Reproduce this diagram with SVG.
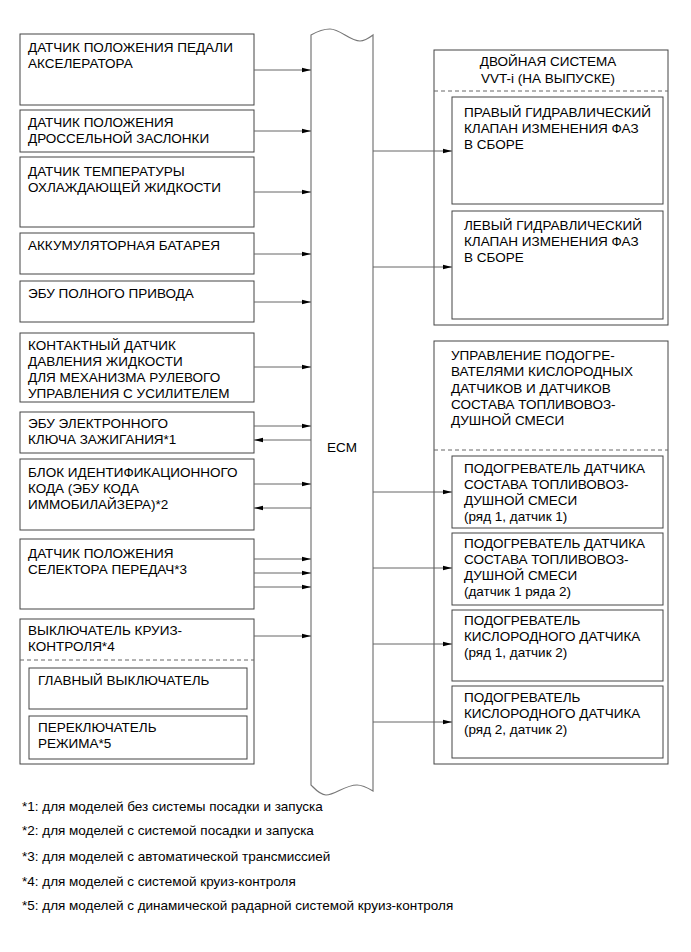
<svg xmlns="http://www.w3.org/2000/svg" width="691" height="952" viewBox="0 0 691 952">
<defs>
<style>
text{font-family:"Liberation Sans",Arial,sans-serif;font-size:13.5px;fill:#000}
.fn{font-size:13.5px}
.box{fill:#fff;stroke:#444;stroke-width:1}
.ecm{fill:#fff;stroke:#777;stroke-width:1.2}
.dash{stroke:#666;stroke-width:1;stroke-dasharray:4,3;fill:none}
.ar{stroke:#666;stroke-width:1;fill:none;marker-end:url(#ah)}
</style>
<marker id="ah" markerUnits="userSpaceOnUse" markerWidth="9" markerHeight="6" refX="9" refY="3" orient="auto">
<path d="M0,0.8 L9,3 L0,5.2 z" fill="#000"/>
</marker>
</defs>
<rect width="691" height="952" fill="#fff"/>

<g id="ecm">
<path class="ecm" d="M311,35 C318,31 324,29 330,29 C340,29 350,41 360,41 C365,41 369,38 373,35 L373,791 C368,788 363,785 357,785 C345,785 335,795 326,795 C320,795 315,789 311,785 Z"/>
<text x="342" y="452" text-anchor="middle">ECM</text>
</g>

<g id="in1"><rect class="box" x="20" y="34" width="234" height="71"/><text x="28" y="52">ДАТЧИК ПОЛОЖЕНИЯ ПЕДАЛИ</text><text x="28" y="68">АКСЕЛЕРАТОРА</text></g>
<g id="in2"><rect class="box" x="20" y="110" width="234" height="42"/><text x="28" y="127">ДАТЧИК ПОЛОЖЕНИЯ</text><text x="28" y="143">ДРОССЕЛЬНОЙ ЗАСЛОНКИ</text></g>
<g id="in3"><rect class="box" x="20" y="157" width="234" height="70"/><text x="28" y="176">ДАТЧИК ТЕМПЕРАТУРЫ</text><text x="28" y="192">ОХЛАЖДАЮЩЕЙ ЖИДКОСТИ</text></g>
<g id="in4"><rect class="box" x="20" y="233" width="234" height="41"/><text x="28" y="250">АККУМУЛЯТОРНАЯ БАТАРЕЯ</text></g>
<g id="in5"><rect class="box" x="20" y="281" width="234" height="41"/><text x="28" y="298">ЭБУ ПОЛНОГО ПРИВОДА</text></g>
<g id="in6"><rect class="box" x="20" y="333" width="234" height="69"/><text x="28" y="350">КОНТАКТНЫЙ ДАТЧИК</text><text x="28" y="366">ДАВЛЕНИЯ ЖИДКОСТИ</text><text x="28" y="382">ДЛЯ МЕХАНИЗМА РУЛЕВОГО</text><text x="28" y="398">УПРАВЛЕНИЯ С УСИЛИТЕЛЕМ</text></g>
<g id="in7"><rect class="box" x="20" y="412" width="234" height="41"/><text x="28" y="428">ЭБУ ЭЛЕКТРОННОГО</text><text x="28" y="444">КЛЮЧА ЗАЖИГАНИЯ*1</text></g>
<g id="in8"><rect class="box" x="20" y="459" width="234" height="71"/><text x="28" y="477">БЛОК ИДЕНТИФИКАЦИОННОГО</text><text x="28" y="493">КОДА (ЭБУ КОДА</text><text x="28" y="509">ИММОБИЛАЙЗЕРА)*2</text></g>
<g id="in9"><rect class="box" x="20" y="539" width="234" height="70"/><text x="28" y="558">ДАТЧИК ПОЛОЖЕНИЯ</text><text x="28" y="574">СЕЛЕКТОРА ПЕРЕДАЧ*3</text></g>
<g id="in10"><rect class="box" x="20" y="619" width="234" height="145"/><text x="28" y="635">ВЫКЛЮЧАТЕЛЬ КРУИЗ-</text><text x="28" y="651">КОНТРОЛЯ*4</text><line class="dash" x1="20" y1="660" x2="254" y2="660"/>
<g id="in10a"><rect class="box" x="29" y="668" width="218" height="41"/><text x="38" y="685">ГЛАВНЫЙ ВЫКЛЮЧАТЕЛЬ</text></g>
<g id="in10b"><rect class="box" x="29" y="716" width="218" height="43"/><text x="38" y="732">ПЕРЕКЛЮЧАТЕЛЬ</text><text x="38" y="748">РЕЖИМА*5</text></g>
</g>

<g id="vvt"><rect class="box" x="434" y="50" width="234" height="275"/><text x="548" y="66" text-anchor="middle">ДВОЙНАЯ СИСТЕМА</text><text x="548" y="83" text-anchor="middle">VVT-i (НА ВЫПУСКЕ)</text><line class="dash" x1="434" y1="91" x2="668" y2="91"/>
<g id="vvtR"><rect class="box" x="452" y="97" width="211" height="107"/><text x="464" y="117">ПРАВЫЙ ГИДРАВЛИЧЕСКИЙ</text><text x="464" y="133">КЛАПАН ИЗМЕНЕНИЯ ФАЗ</text><text x="464" y="149">В СБОРЕ</text></g>
<g id="vvtL"><rect class="box" x="452" y="211" width="211" height="108"/><text x="464" y="230">ЛЕВЫЙ ГИДРАВЛИЧЕСКИЙ</text><text x="464" y="246">КЛАПАН ИЗМЕНЕНИЯ ФАЗ</text><text x="464" y="262">В СБОРЕ</text></g>
</g>

<g id="o2"><rect class="box" x="434" y="341" width="234" height="423"/><text x="451" y="360">УПРАВЛЕНИЕ ПОДОГРЕ-</text><text x="451" y="376">ВАТЕЛЯМИ КИСЛОРОДНЫХ</text><text x="451" y="393">ДАТЧИКОВ И ДАТЧИКОВ</text><text x="451" y="409">СОСТАВА ТОПЛИВОВОЗ-</text><text x="451" y="425">ДУШНОЙ СМЕСИ</text><line class="dash" x1="434" y1="450" x2="668" y2="450"/>
<g id="o2a"><rect class="box" x="452" y="456" width="211" height="72"/><text x="464" y="473">ПОДОГРЕВАТЕЛЬ ДАТЧИКА</text><text x="464" y="489">СОСТАВА ТОПЛИВОВОЗ-</text><text x="464" y="505">ДУШНОЙ СМЕСИ</text><text x="464" y="521">(ряд 1, датчик 1)</text></g>
<g id="o2b"><rect class="box" x="452" y="533" width="211" height="72"/><text x="464" y="548">ПОДОГРЕВАТЕЛЬ ДАТЧИКА</text><text x="464" y="564">СОСТАВА ТОПЛИВОВОЗ-</text><text x="464" y="580">ДУШНОЙ СМЕСИ</text><text x="464" y="596">(датчик 1 ряда 2)</text></g>
<g id="o2c"><rect class="box" x="452" y="610" width="211" height="71"/><text x="464" y="625">ПОДОГРЕВАТЕЛЬ</text><text x="464" y="641">КИСЛОРОДНОГО ДАТЧИКА</text><text x="464" y="657">(ряд 1, датчик 2)</text></g>
<g id="o2d"><rect class="box" x="452" y="686" width="211" height="72"/><text x="464" y="702">ПОДОГРЕВАТЕЛЬ</text><text x="464" y="718">КИСЛОРОДНОГО ДАТЧИКА</text><text x="464" y="734">(ряд 2, датчик 2)</text></g>
</g>

<g id="connectors">
<line class="ar" x1="254" y1="70" x2="311" y2="70"/>
<line class="ar" x1="254" y1="131" x2="311" y2="131"/>
<line class="ar" x1="254" y1="192" x2="311" y2="192"/>
<line class="ar" x1="254" y1="254" x2="311" y2="254"/>
<line class="ar" x1="254" y1="302" x2="311" y2="302"/>
<line class="ar" x1="254" y1="367" x2="311" y2="367"/>
<line class="ar" x1="254" y1="426" x2="311" y2="426"/>
<line class="ar" x1="311" y1="440" x2="254" y2="440"/>
<line class="ar" x1="254" y1="484" x2="311" y2="484"/>
<line class="ar" x1="311" y1="508" x2="254" y2="508"/>
<line class="ar" x1="254" y1="559" x2="311" y2="559"/>
<line class="ar" x1="254" y1="573" x2="311" y2="573"/>
<line class="ar" x1="254" y1="587" x2="311" y2="587"/>
<line class="ar" x1="254" y1="636" x2="311" y2="636"/>
<line class="ar" x1="373" y1="151" x2="452" y2="151"/>
<line class="ar" x1="373" y1="267" x2="452" y2="267"/>
<line class="ar" x1="373" y1="492" x2="452" y2="492"/>
<line class="ar" x1="373" y1="568" x2="452" y2="568"/>
<line class="ar" x1="373" y1="644" x2="452" y2="644"/>
<line class="ar" x1="373" y1="722" x2="452" y2="722"/>
</g>

<g id="notes">
<text class="fn" x="22" y="811">*1: для моделей без системы посадки и запуска</text>
<text class="fn" x="22" y="835">*2: для моделей с системой посадки и запуска</text>
<text class="fn" x="22" y="861">*3: для моделей с автоматической трансмиссией</text>
<text class="fn" x="22" y="886">*4: для моделей с системой круиз-контроля</text>
<text class="fn" x="22" y="910">*5: для моделей с динамической радарной системой круиз-контроля</text>
</g>
</svg>
